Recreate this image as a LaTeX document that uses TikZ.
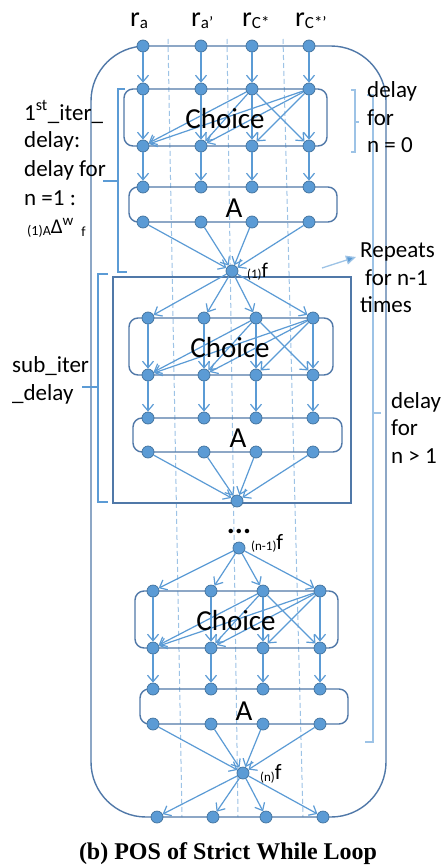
\documentclass[tikz,border=0pt]{standalone}
\usepackage{fontspec}
\setmainfont{Carlito}
\newfontfamily\capfont{Liberation Serif}
\usetikzlibrary{arrows.meta}
\definecolor{nodefill}{HTML}{5B9BD5}
\definecolor{nodeline}{HTML}{41719C}
\definecolor{arr}{HTML}{5B9BD5}
\definecolor{frame}{HTML}{5078A8}
\definecolor{light}{HTML}{9DC3E6}
\newcommand\chArrows[1]{%
  \foreach \i in {1,...,4} {\draw[arrow] (c#1a\i) -- (c#1b\i);}
  \foreach \j in {1,2,4} {\draw[arrow] (c#1a3) -- (c#1b\j);}
  \foreach \j in {1,2,3} {\draw[arrow] (c#1a4) -- (c#1b\j);}
}
\begin{document}
\begin{tikzpicture}[x=1pt,y=-1pt,
  dot/.style={circle,fill=nodefill,draw=nodeline,line width=0.7pt,inner sep=0pt,minimum size=12pt},
  arrow/.style={draw=arr,line width=1.2pt,-{Straight Barb[length=6.5pt,width=11pt,line width=1.2pt]}},
  frm/.style={draw=frame,line width=1.4pt},
  blk/.style={frm,rounded corners=9pt},
  guide/.style={draw=light,line width=1pt,dash pattern=on 5pt off 3pt},
  bracem/.style={draw=arr,line width=1.1pt},
  bracel/.style={draw=light,line width=1.3pt},
  lbl/.style={font=\fontsize{23}{26}\selectfont,inner sep=0pt,anchor=base west},
  big/.style={font=\fontsize{29}{29}\selectfont,inner sep=0pt,anchor=base},
  flbl/.style={inner sep=0pt,anchor=base west}
]
\useasboundingbox (0,0) rectangle (443,867);
\fill[white] (0,0) rectangle (443,867);

% dashed guide lines
\draw[guide] (168,39) -- (182,817);
\draw[guide] (227,39) -- (238,817);
\draw[guide] (283,39) -- (303,817);

% frames
\draw[frm,rounded corners=55pt] (91,46) rectangle (386,817);
\draw[frm] (113,277) rectangle (351,503);
\draw[blk] (124,89) rectangle (327,146);
\draw[blk] (129,187) rectangle (337,222);
\draw[blk] (129,318) rectangle (333,375);
\draw[blk] (133,418) rectangle (342,452);
\draw[blk] (135,591) rectangle (338,648);
\draw[blk] (140,689) rectangle (348,724);

% braces
\draw[bracem] (125,89) -- (118,89) -- (118,272) -- (127,272);
\draw[bracem] (118,181) -- (103,181);
\draw[bracem] (108,274) -- (98,274) -- (98,502) -- (108,502);
\draw[bracem] (98,387) -- (82,387);
\draw[bracel] (351,90) -- (355,90) -- (355,152) -- (351,152);
\draw[bracel] (355,122) -- (359,122);
\draw[bracel] (367,95) -- (373,95) -- (373,742) -- (365,742);
\draw[bracel] (373,413) -- (381,413);

% nodes
\foreach \x [count=\i] in {143,201,252,309} {
  \node[dot] (t\i) at (\x,46) {};
  \node[dot] (c1a\i) at (\x,89) {};
  \node[dot] (c1b\i) at (\x,146) {};
  \node[dot] (a1a\i) at (\x,187) {};
  \node[dot] (a1b\i) at (\x,222) {};
}
\foreach \x [count=\i] in {148,204,256,313} {
  \node[dot] (c2a\i) at (\x,318) {};
  \node[dot] (c2b\i) at (\x,375) {};
  \node[dot] (a2a\i) at (\x,418) {};
  \node[dot] (a2b\i) at (\x,452) {};
}
\foreach \x [count=\i] in {153,211,263,320} {
  \node[dot] (c3a\i) at (\x,591) {};
  \node[dot] (c3b\i) at (\x,648) {};
  \node[dot] (a3a\i) at (\x,689) {};
  \node[dot] (a3b\i) at (\x,724) {};
}
\foreach \x [count=\i] in {157,213,266,323} {
  \node[dot] (b\i) at (\x,817) {};
}
\node[dot] (f1) at (232,271) {};
\node[dot] (f2) at (237,501) {};
\node[dot] (fm) at (239,548) {};
\node[dot] (fn) at (243,773) {};

% arrows
\foreach \i in {1,...,4} {
  \draw[arrow] (t\i) -- (c1a\i);
  \draw[arrow] (c1b\i) -- (a1a\i);
  \draw[arrow] (a1b\i) -- (f1);
  \draw[arrow] (f1) -- (c2a\i);
  \draw[arrow] (c2b\i) -- (a2a\i);
  \draw[arrow] (a2b\i) -- (f2);
  \draw[arrow] (fm) -- (c3a\i);
  \draw[arrow] (c3b\i) -- (a3a\i);
  \draw[arrow] (a3b\i) -- (fn);
  \draw[arrow] (fn) -- (b\i);
}
\chArrows{1}
\chArrows{2}
\chArrows{3}

% block texts
\node[big] (ch1) at (225,128) {Choice};
\node[big] (ch2) at (230,357) {Choice};
\node[big] (ch3) at (236,630) {Choice};
\node[big] (A1) at (234,217) {A};
\node[big] (A2) at (238,447) {A};
\node[big] (A3) at (244,720) {A};

% column labels
\node[flbl] (ra) at (130,27) {\fontsize{28}{28}\selectfont r\raisebox{-2pt}{\fontsize{17}{17}\selectfont a}};
\node[flbl] (rap) at (191,27) {\fontsize{28}{28}\selectfont r\raisebox{-2pt}{\fontsize{17}{17}\selectfont a’}};
\node[flbl] (rc) at (242,27) {\fontsize{28}{28}\selectfont r\raisebox{-2pt}{\fontsize{17}{17}\selectfont C*}};
\node[flbl] (rcp) at (295,27) {\fontsize{28}{28}\selectfont r\raisebox{-2pt}{\fontsize{17}{17}\selectfont C*’}};

% f labels
\node[flbl] (lf1) at (247,278) {\fontsize{13}{13}\selectfont (1)\fontsize{21}{21}\selectfont\raisebox{1pt}{f}};
\node[flbl] (lfm) at (251,550) {\fontsize{13}{13}\selectfont (n-1)\fontsize{22}{22}\selectfont\raisebox{1pt}{f}};
\node[flbl] (lfn) at (260,781) {\fontsize{13}{13}\selectfont (n)\fontsize{22}{22}\selectfont\raisebox{2pt}{f}};
\node[inner sep=0pt,anchor=base,font=\fontsize{30}{30}\selectfont\bfseries] (dots) at (239,533) {...};

% left labels
\node[lbl] (l1) at (24,120) {1\textsuperscript{st}\_iter\_};
\node[lbl] (l2) at (24,147) {delay:};
\node[lbl] (l3) at (24,176) {delay for};
\node[lbl] (l4) at (24,205) {n =1 :};
\node[flbl] (l5) at (27,235) {\fontsize{14}{14}\selectfont (1)A\fontsize{21}{21}\selectfont\raisebox{2pt}{Δ}\raisebox{10pt}{\fontsize{15}{15}\selectfont w}\hspace{8pt}\raisebox{-1pt}{\fontsize{14}{14}\selectfont f}};
\node[lbl] (s1) at (12,372) {sub\_iter};
\node[lbl] (s2) at (12,400) {\_delay};

% right labels
\node[lbl] (d1) at (367,97) {delay};
\node[lbl] (d2) at (367,125) {for};
\node[lbl] (d3) at (367,152) {n = 0};
\node[lbl] (rp1) at (360,257) {Repeats};
\node[lbl] (rp2) at (365,285) {for n-1};
\node[lbl] (rp3) at (360,312) {times};
\node[lbl] (e1) at (391,408) {delay};
\node[lbl] (e2) at (391,435) {for};
\node[lbl] (e3) at (391,463) {n > 1};

\coordinate (rpS) at (322,268);
\coordinate (rpE) at (356,257);
\draw[draw=light,line width=1.3pt,-{Triangle[length=10pt,width=9pt,fill=arr]}] (rpS) -- (rpE);

% caption
\node[inner sep=0pt,anchor=base,font=\capfont\bfseries\fontsize{24}{24}\selectfont] (cap) at (228,859) {(b) POS of Strict While Loop};
\end{tikzpicture}
\end{document}
